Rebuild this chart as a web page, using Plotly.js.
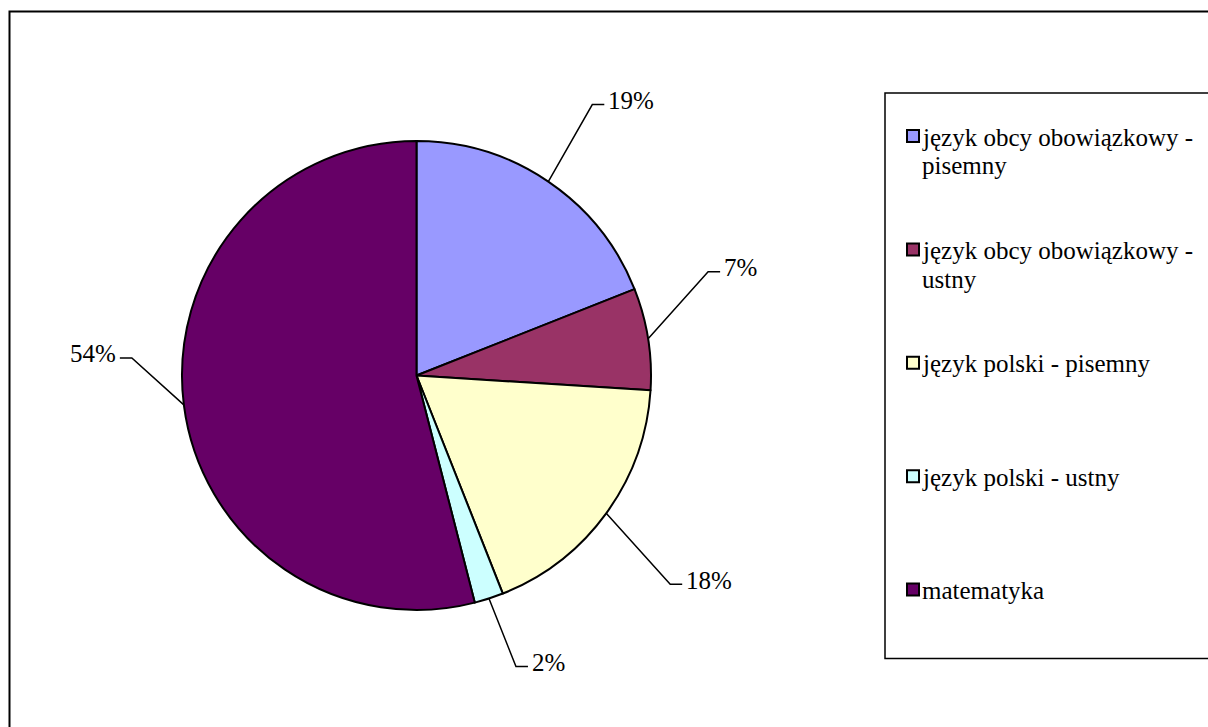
<!DOCTYPE html>
<html>
<head>
<meta charset="utf-8">
<script src="https://cdn.plot.ly/plotly-3.0.1.min.js"></script>
<style>
html,body{margin:0;padding:0;background:#fff;}
#chart{width:1208px;height:727px;}
</style>
</head>
<body>
<div id="chart"></div>
<script>
// ---- data ----
var categories = [
  "język obcy obowiązkowy - pisemny",
  "język obcy obowiązkowy - ustny",
  "język polski - pisemny",
  "język polski - ustny",
  "matematyka"
];
var shares = [19, 7, 18, 2, 54];
var percentLabels = ["19%", "7%", "18%", "2%", "54%"];

// ---- styles / positions ----
var colors = ["#9999FF", "#993366", "#FFFFCC", "#CCFFFF", "#660066"];
// leader line elbow offsets (pixels from slice edge point)
var elbowOffsets = [[44, -77], [60, -67], [64, 71], [27, 68], [-52, -47]];
var W = 1208, H = 727;
var domX = [182 / W, 651 / W];
var domY = [1 - 610 / H, 1 - 141 / H];
var FONT = "Times New Roman";
var FS = 25;

function px(x) { return x / W; }
function py(y) { return 1 - y / H; }

var cx = (domX[0] + domX[1]) / 2 * W;
var cy = (1 - (domY[0] + domY[1]) / 2) * H;
var r = Math.min((domX[1] - domX[0]) * W, (domY[1] - domY[0]) * H) / 2;

var total = shares.reduce(function (a, b) { return a + b; }, 0);
var shapes = [];
var annotations = [];

// outer frame and legend box
shapes.push({type: "rect", xref: "paper", yref: "paper",
  x0: px(9.5), x1: px(1230), y0: py(11.5), y1: py(760),
  line: {color: "#000", width: 2}, fillcolor: "rgba(0,0,0,0)"});
shapes.push({type: "rect", xref: "paper", yref: "paper",
  x0: px(885), x1: px(1230), y0: py(93), y1: py(658.5),
  line: {color: "#000", width: 1.5}, fillcolor: "rgba(0,0,0,0)"});

// leader lines and percentage labels
var cum = 0;
for (var i = 0; i < shares.length; i++) {
  var mid = (cum + shares[i] / 2) / total * 2 * Math.PI;
  cum += shares[i];
  var ex = cx + r * Math.sin(mid), ey = cy - r * Math.cos(mid);
  var bx = ex + elbowOffsets[i][0], by = ey + elbowOffsets[i][1];
  var side = elbowOffsets[i][0] >= 0 ? 1 : -1;
  var hx = bx + side * 12;
  shapes.push({type: "path", xref: "paper", yref: "paper",
    path: "M" + px(ex) + "," + py(ey) + " L" + px(bx) + "," + py(by) + " L" + px(hx) + "," + py(by),
    line: {color: "#000", width: 1.5}});
  annotations.push({xref: "paper", yref: "paper", x: px(hx + side * 2), y: py(by - 4),
    xanchor: side > 0 ? "left" : "right", yanchor: "middle", showarrow: false,
    text: percentLabels[i], font: {family: FONT, size: FS, color: "#000"}});
}

// custom legend
function wrap(s, n) {
  var words = s.split(" "), lines = [], cur = "";
  words.forEach(function (w) {
    if (cur && (cur + " " + w).length > n) { lines.push(cur); cur = w; }
    else cur = cur ? cur + " " + w : w;
  });
  if (cur) lines.push(cur);
  return lines;
}
for (var j = 0; j < categories.length; j++) {
  var yc = 136 + j * 113.4;
  shapes.push({type: "rect", xref: "paper", yref: "paper",
    x0: px(907), x1: px(919), y0: py(yc - 6), y1: py(yc + 6),
    line: {color: "#000", width: 2}, fillcolor: colors[j]});
  var lines = wrap(categories[j], 24);
  for (var k = 0; k < lines.length; k++) {
    annotations.push({xref: "paper", yref: "paper", x: px(920), y: py(yc + 1 + k * 29),
      xanchor: "left", yanchor: "middle", showarrow: false,
      text: lines[k], font: {family: FONT, size: FS, color: "#000"}});
  }
}

var trace = {
  type: "pie",
  labels: categories,
  values: shares,
  sort: false,
  direction: "clockwise",
  rotation: 0,
  textinfo: "none",
  hoverinfo: "label+percent",
  marker: {colors: colors, line: {color: "#000", width: 2}},
  domain: {x: domX, y: domY},
  showlegend: false
};

Plotly.newPlot("chart", [trace], {
  width: W, height: H,
  margin: {l: 0, r: 0, t: 0, b: 0},
  paper_bgcolor: "#fff",
  font: {family: FONT, size: FS, color: "#000"},
  showlegend: false,
  shapes: shapes,
  annotations: annotations
}, {displayModeBar: false, staticPlot: true});
</script>
</body>
</html>
